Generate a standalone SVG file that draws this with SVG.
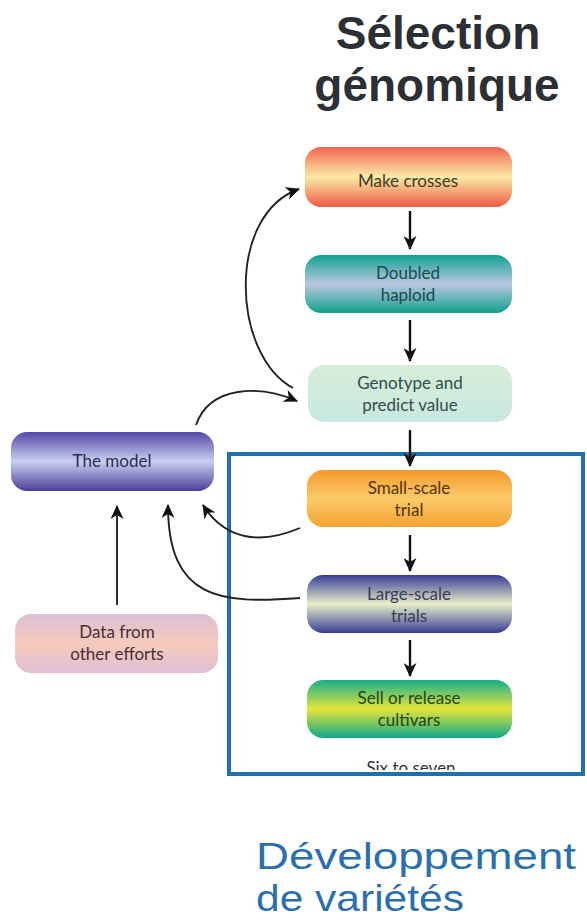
<svg xmlns="http://www.w3.org/2000/svg" width="587" height="923" viewBox="0 0 587 923">
  <defs>
    <linearGradient id="gCrosses" x1="0" y1="0" x2="0" y2="1">
      <stop offset="0" stop-color="#f26650"/>
      <stop offset="0.5" stop-color="#fbeaa8"/>
      <stop offset="1" stop-color="#ee5a42"/>
    </linearGradient>
    <linearGradient id="gHaploid" x1="0" y1="0" x2="0" y2="1">
      <stop offset="0" stop-color="#11a090"/>
      <stop offset="0.5" stop-color="#bcc8e2"/>
      <stop offset="1" stop-color="#10a08c"/>
    </linearGradient>
    <linearGradient id="gGenotype" x1="0" y1="0" x2="0" y2="1">
      <stop offset="0" stop-color="#d6eed8"/>
      <stop offset="1" stop-color="#c8e8e2"/>
    </linearGradient>
    <linearGradient id="gSmall" x1="0" y1="0" x2="0" y2="1">
      <stop offset="0" stop-color="#f59a2c"/>
      <stop offset="0.5" stop-color="#fbcb6a"/>
      <stop offset="1" stop-color="#f5a232"/>
    </linearGradient>
    <linearGradient id="gLarge" x1="0" y1="0" x2="0" y2="1">
      <stop offset="0" stop-color="#363c96"/>
      <stop offset="0.5" stop-color="#e9efc8"/>
      <stop offset="1" stop-color="#363c96"/>
    </linearGradient>
    <linearGradient id="gSell" x1="0" y1="0" x2="0" y2="1">
      <stop offset="0" stop-color="#16ad8c"/>
      <stop offset="0.5" stop-color="#e6e63c"/>
      <stop offset="1" stop-color="#0fa88a"/>
    </linearGradient>
    <linearGradient id="gModel" x1="0" y1="0" x2="0" y2="1">
      <stop offset="0" stop-color="#5548a6"/>
      <stop offset="0.5" stop-color="#c9cff2"/>
      <stop offset="1" stop-color="#4a3e9a"/>
    </linearGradient>
    <linearGradient id="gData" x1="0" y1="0" x2="0" y2="1">
      <stop offset="0" stop-color="#dcc0d6"/>
      <stop offset="0.5" stop-color="#f6cbbb"/>
      <stop offset="1" stop-color="#dfbfd4"/>
    </linearGradient>
    <marker id="head" markerUnits="userSpaceOnUse" markerWidth="15" markerHeight="13" refX="13" refY="6.5" orient="auto">
      <path d="M0,0 L14,6.5 L0,13 L4,6.5 z" fill="#111"/>
    </marker>
    <clipPath id="boxClip">
      <rect x="229" y="454" width="354" height="316"/>
    </clipPath>
    <style>
      .box { stroke: none; }
      .lbl { font-family: Lato, "Liberation Sans", sans-serif; font-size: 17px; text-anchor: middle; }
      .vline { stroke: #111; stroke-width: 2.4; fill: none; }
      .curve { stroke: #222; stroke-width: 1.9; fill: none; }
      .caption { font-family: "Liberation Sans", Arial, sans-serif; font-size: 37px; fill: #2c6fae; }
    </style>
  </defs>

  <rect width="587" height="923" fill="#ffffff"/>

  <!-- Heading -->
  <text x="438" y="49" font-family="'Liberation Sans', Arial, sans-serif" font-weight="bold" font-size="46" fill="#2c2f33" text-anchor="middle">Sélection</text>
  <text x="437" y="101" font-family="'Liberation Sans', Arial, sans-serif" font-weight="bold" font-size="46" fill="#2c2f33" text-anchor="middle">génomique</text>

  <!-- Nodes -->
  <g id="make-crosses">
    <rect class="box" x="305" y="147" width="207" height="60" rx="16" fill="url(#gCrosses)"/>
    <text class="lbl" x="408" y="187" fill="#3a3c26">Make crosses</text>
  </g>
  <g id="doubled-haploid">
    <rect class="box" x="305" y="255" width="207" height="58" rx="16" fill="url(#gHaploid)"/>
    <text class="lbl" x="408" y="279" fill="#1c4a4c">Doubled</text>
    <text class="lbl" x="408" y="301" fill="#1c4a4c">haploid</text>
  </g>
  <g id="genotype">
    <rect class="box" x="308" y="365" width="204" height="57" rx="16" fill="url(#gGenotype)"/>
    <text class="lbl" x="410" y="389" fill="#324e4a">Genotype and</text>
    <text class="lbl" x="410" y="411" fill="#324e4a">predict value</text>
  </g>
  <g id="small-scale">
    <rect class="box" x="307" y="470" width="205" height="57" rx="16" fill="url(#gSmall)"/>
    <text class="lbl" x="409" y="494" fill="#55340c">Small-scale</text>
    <text class="lbl" x="409" y="516" fill="#55340c">trial</text>
  </g>
  <g id="large-scale">
    <rect class="box" x="307" y="575" width="205" height="58" rx="16" fill="url(#gLarge)"/>
    <text class="lbl" x="409" y="600" fill="#383c58">Large-scale</text>
    <text class="lbl" x="409" y="622" fill="#383c58">trials</text>
  </g>
  <g id="sell-release">
    <rect class="box" x="307" y="680" width="205" height="58" rx="16" fill="url(#gSell)"/>
    <text class="lbl" x="409" y="704" fill="#2a4410">Sell or release</text>
    <text class="lbl" x="409" y="726" fill="#2a4410">cultivars</text>
  </g>
  <g id="six-to-seven" clip-path="url(#boxClip)">
    <text class="lbl" x="411" y="774" font-size="16" fill="#333">Six to seven</text>
  </g>
  <g id="the-model">
    <rect class="box" x="11" y="432" width="203" height="59" rx="16" fill="url(#gModel)"/>
    <text class="lbl" x="112" y="467" fill="#2c2c4c">The model</text>
  </g>
  <g id="data-other">
    <rect class="box" x="15" y="614" width="203" height="59" rx="16" fill="url(#gData)"/>
    <text class="lbl" x="117" y="638" fill="#482e2e">Data from</text>
    <text class="lbl" x="117" y="660" fill="#482e2e">other efforts</text>
  </g>

  <!-- Development frame -->
  <g id="development-frame">
    <rect x="229" y="454" width="354" height="320" fill="none" stroke="#1f6fb4" stroke-width="4"/>
  </g>

  <!-- Connectors -->
  <g id="connectors">
    <path class="vline" d="M410 211 L410 249" marker-end="url(#head)"/>
    <path class="vline" d="M410 320 L410 361" marker-end="url(#head)"/>
    <path class="vline" d="M410 430 L410 466" marker-end="url(#head)"/>
    <path class="vline" d="M410 535 L410 571" marker-end="url(#head)"/>
    <path class="vline" d="M410 640 L410 676" marker-end="url(#head)"/>
    <path class="curve" d="M293 388 C232 355, 226 215, 299 189" marker-end="url(#head)"/>
    <path class="curve" d="M196 425 C210 385, 260 385, 297 401" marker-end="url(#head)"/>
    <path class="curve" d="M117 605 L117 506" marker-end="url(#head)"/>
    <path class="curve" d="M300 528 C260 545, 225 540, 203 505" marker-end="url(#head)"/>
    <path class="curve" d="M300 598 C220 604, 168 600, 168 505" marker-end="url(#head)"/>
  </g>

  <!-- Caption -->
  <text class="caption" x="256" y="869" textLength="320" lengthAdjust="spacingAndGlyphs">Développement</text>
  <text class="caption" x="256" y="911" textLength="208" lengthAdjust="spacingAndGlyphs">de variétés</text>
</svg>
